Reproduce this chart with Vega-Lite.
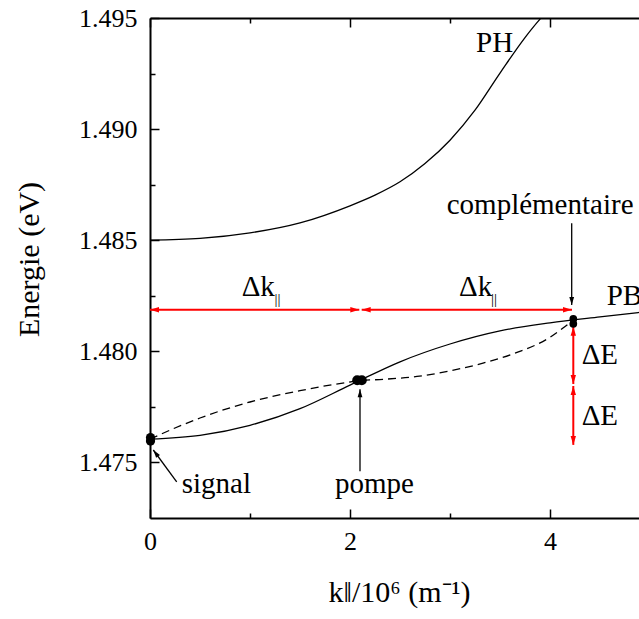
{
  "$schema": "https://vega.github.io/schema/vega-lite/v6.json",
  "width": 489,
  "height": 500,
  "autosize": "none",
  "padding": {"left": 150, "top": 18, "right": 0, "bottom": 101},
  "background": "white",
  "config": {
    "view": {"stroke": null},
    "font": "Liberation Serif",
    "axis": {
      "labelFont": "Liberation Serif",
      "labelFontSize": 26,
      "labelColor": "black",
      "titleFont": "Liberation Serif",
      "titleFontSize": 30,
      "titleFontWeight": "normal",
      "titleColor": "black",
      "domainColor": "black",
      "domainWidth": 2,
      "tickColor": "black",
      "tickWidth": 1.5,
      "grid": false,
      "labelFlush": false,
      "labelOverlap": false
    }
  },
  "datasets": {
    "curves": [
      {"k": 0, "E": 1.4850, "c": "PH"},
      {"k": 0.5, "E": 1.48508, "c": "PH"},
      {"k": 1, "E": 1.48533, "c": "PH"},
      {"k": 1.5, "E": 1.48578, "c": "PH"},
      {"k": 2, "E": 1.48655, "c": "PH"},
      {"k": 2.25, "E": 1.48703, "c": "PH"},
      {"k": 2.5, "E": 1.48763, "c": "PH"},
      {"k": 2.75, "E": 1.48845, "c": "PH"},
      {"k": 3, "E": 1.4895, "c": "PH"},
      {"k": 3.25, "E": 1.49085, "c": "PH"},
      {"k": 3.5, "E": 1.49252, "c": "PH"},
      {"k": 3.75, "E": 1.49412, "c": "PH"},
      {"k": 3.9, "E": 1.49495, "c": "PH"},
      {"k": 3.95, "E": 1.4952, "c": "PH"},
      {"k": 0, "E": 1.47605, "c": "PB"},
      {"k": 0.5, "E": 1.47622, "c": "PB"},
      {"k": 1, "E": 1.47667, "c": "PB"},
      {"k": 1.5, "E": 1.47742, "c": "PB"},
      {"k": 2, "E": 1.47848, "c": "PB"},
      {"k": 2.5, "E": 1.47953, "c": "PB"},
      {"k": 3, "E": 1.48033, "c": "PB"},
      {"k": 3.5, "E": 1.48092, "c": "PB"},
      {"k": 4, "E": 1.48128, "c": "PB"},
      {"k": 4.5, "E": 1.48155, "c": "PB"},
      {"k": 4.89, "E": 1.48175, "c": "PB"}
    ],
    "dashed": [
      {"k": 0, "E": 1.47605},
      {"k": 0.25, "E": 1.47655},
      {"k": 0.5, "E": 1.477},
      {"k": 1, "E": 1.47772},
      {"k": 1.5, "E": 1.47823},
      {"k": 2, "E": 1.47862},
      {"k": 2.1, "E": 1.47868},
      {"k": 2.33, "E": 1.47874},
      {"k": 2.67, "E": 1.47887},
      {"k": 3, "E": 1.47912},
      {"k": 3.33, "E": 1.47947},
      {"k": 3.67, "E": 1.47995},
      {"k": 4, "E": 1.48063},
      {"k": 4.13, "E": 1.48105},
      {"k": 4.23, "E": 1.4814}
    ],
    "dots": [
      {"k": 0.005, "E": 1.47612, "d": "s"},
      {"k": 0.005, "E": 1.47596, "d": "s"},
      {"k": 2.072, "E": 1.4787, "d": "p"},
      {"k": 2.118, "E": 1.4787, "d": "p"},
      {"k": 4.233, "E": 1.48146, "d": "c"},
      {"k": 4.233, "E": 1.48124, "d": "c"}
    ],
    "segments": [
      {"k": 0, "E": 1.48187, "k2": 2.093, "E2": 1.48187, "g": "delta"},
      {"k": 2.117, "E": 1.48187, "k2": 4.22, "E2": 1.48187, "g": "delta"},
      {"k": 4.233, "E": 1.48111, "k2": 4.233, "E2": 1.47853, "g": "delta"},
      {"k": 4.233, "E": 1.47844, "k2": 4.233, "E2": 1.47579, "g": "delta"},
      {"k": 0.267, "E": 1.47413, "k2": 0.033, "E2": 1.47556, "g": "pointer"},
      {"k": 2.1, "E": 1.4746, "k2": 2.1, "E2": 1.47829, "g": "pointer"},
      {"k": 4.217, "E": 1.48576, "k2": 4.217, "E2": 1.48209, "g": "pointer"}
    ],
    "heads": [
      {"k": 0, "E": 1.48187, "dir": "left", "g": "delta"},
      {"k": 2.093, "E": 1.48187, "dir": "right", "g": "delta"},
      {"k": 2.117, "E": 1.48187, "dir": "left", "g": "delta"},
      {"k": 4.22, "E": 1.48187, "dir": "right", "g": "delta"},
      {"k": 4.233, "E": 1.48111, "dir": "up", "g": "delta"},
      {"k": 4.233, "E": 1.47853, "dir": "down", "g": "delta"},
      {"k": 4.233, "E": 1.47844, "dir": "up", "g": "delta"},
      {"k": 4.233, "E": 1.47579, "dir": "down", "g": "delta"},
      {"k": 0.033, "E": 1.47556, "dir": "upleft", "g": "pointer"},
      {"k": 2.1, "E": 1.47829, "dir": "up", "g": "pointer"},
      {"k": 4.217, "E": 1.48209, "dir": "down", "g": "pointer"}
    ],
    "labels": [
      {"k": 3.26, "E": 1.49348, "t": "PH"},
      {"k": 0.317, "E": 1.47361, "t": "signal"},
      {"k": 1.85, "E": 1.47361, "t": "pompe"},
      {"k": 2.967, "E": 1.48618, "t": "complémentaire"},
      {"k": 4.317, "E": 1.47943, "t": "ΔE"},
      {"k": 4.317, "E": 1.47669, "t": "ΔE"},
      {"k": 0.917, "E": 1.48249, "t": "Δk"},
      {"k": 3.09, "E": 1.48249, "t": "Δk"}
    ],
    "pblabel": [
      {"k": 4.567, "E": 1.48209, "t": "PB"}
    ],
    "subs": [
      {"k": 1.245, "E": 1.48214, "t": "||"},
      {"k": 3.41, "E": 1.48214, "t": "||"}
    ]
  },
  "layer": [
    {
      "data": {"name": "curves"},
      "mark": {"type": "line", "color": "black", "strokeWidth": 1.3, "clip": true, "interpolate": "monotone"},
      "encoding": {
        "x": {"field": "k", "type": "quantitative",
          "scale": {"domain": [0, 4.89], "nice": false, "zero": false},
          "axis": {"orient": "bottom", "values": [0, 1, 2, 3, 4], "format": "d",
            "labelExpr": "datum.value % 2 === 0 ? datum.label : ''",
            "tickSize": {"condition": {"test": "datum.value % 2 === 0", "value": -9}, "value": -5},
            "labelPadding": 19.5,
            "title": "k‖/10⁶ (m⁻¹)", "titleX": 249, "titleY": 83, "titleBaseline": "alphabetic", "titleAlign": "center"}},
        "y": {"field": "E", "type": "quantitative",
          "scale": {"domain": [1.4725, 1.495], "nice": false, "zero": false},
          "axis": {"orient": "left", "values": [1.475, 1.4775, 1.48, 1.4825, 1.485, 1.4875, 1.49, 1.4925, 1.495],
            "labelExpr": "round(datum.value * 10000) % 50 === 0 ? format(datum.value, '.3f') : ''",
            "tickSize": {"condition": {"test": "round(datum.value * 10000) % 50 === 0", "value": -9}, "value": -5},
            "labelPadding": 22,
            "title": "Energie (eV)", "titleX": -111.7, "titleY": 241, "titleBaseline": "alphabetic", "titleAlign": "center", "titleAngle": 270}},
        "detail": {"field": "c", "type": "nominal"}
      }
    },
    {
      "data": {"name": "dashed"},
      "mark": {"type": "line", "color": "black", "strokeWidth": 1.3, "strokeDash": [8, 5], "clip": true, "interpolate": "monotone"},
      "encoding": {
        "x": {"field": "k", "type": "quantitative", "scale": {"domain": [0, 4.89], "nice": false, "zero": false}, "axis": null},
        "y": {"field": "E", "type": "quantitative", "scale": {"domain": [1.4725, 1.495], "nice": false, "zero": false}}
      }
    },
    {
      "data": {"name": "segments"},
      "transform": [{"filter": "datum.g === 'delta'"}],
      "mark": {"type": "rule", "color": "#ff0000", "strokeWidth": 2},
      "encoding": {
        "x": {"field": "k", "type": "quantitative", "scale": {"domain": [0, 4.89], "nice": false, "zero": false}, "axis": null},
        "y": {"field": "E", "type": "quantitative", "scale": {"domain": [1.4725, 1.495], "nice": false, "zero": false}},
        "x2": {"field": "k2"},
        "y2": {"field": "E2"}
      }
    },
    {
      "data": {"name": "segments"},
      "transform": [{"filter": "datum.g === 'pointer'"}],
      "mark": {"type": "rule", "color": "black", "strokeWidth": 1.3},
      "encoding": {
        "x": {"field": "k", "type": "quantitative", "scale": {"domain": [0, 4.89], "nice": false, "zero": false}, "axis": null},
        "y": {"field": "E", "type": "quantitative", "scale": {"domain": [1.4725, 1.495], "nice": false, "zero": false}},
        "x2": {"field": "k2"},
        "y2": {"field": "E2"}
      }
    },
    {
      "data": {"name": "heads"},
      "transform": [{"filter": "datum.g === 'delta'"}],
      "mark": {"type": "point", "shape": "M0,0L-2,-0.6L-2,0.6Z", "filled": true, "color": "#ff0000", "size": 81, "opacity": 1},
      "encoding": {
        "x": {"field": "k", "type": "quantitative", "scale": {"domain": [0, 4.89], "nice": false, "zero": false}, "axis": null},
        "y": {"field": "E", "type": "quantitative", "scale": {"domain": [1.4725, 1.495], "nice": false, "zero": false}},
        "angle": {"field": "dir", "type": "nominal", "legend": null,
          "scale": {"type": "ordinal", "domain": ["right", "down", "left", "up", "upleft"], "range": [0, 90, 180, 270, 233.6]}}
      }
    },
    {
      "data": {"name": "heads"},
      "transform": [{"filter": "datum.g === 'pointer'"}],
      "mark": {"type": "point", "shape": "M0,0L-2,-0.6L-2,0.6Z", "filled": true, "color": "black", "size": 64, "opacity": 1},
      "encoding": {
        "x": {"field": "k", "type": "quantitative", "scale": {"domain": [0, 4.89], "nice": false, "zero": false}, "axis": null},
        "y": {"field": "E", "type": "quantitative", "scale": {"domain": [1.4725, 1.495], "nice": false, "zero": false}},
        "angle": {"field": "dir", "type": "nominal", "legend": null,
          "scale": {"type": "ordinal", "domain": ["right", "down", "left", "up", "upleft"], "range": [0, 90, 180, 270, 233.6]}}
      }
    },
    {
      "data": {"name": "dots"},
      "mark": {"type": "circle", "color": "black", "opacity": 1},
      "encoding": {
        "x": {"field": "k", "type": "quantitative", "scale": {"domain": [0, 4.89], "nice": false, "zero": false},
          "axis": {"orient": "top", "values": [0, 1, 2, 3, 4], "labels": false, "title": null,
            "tickSize": {"condition": {"test": "datum.value % 2 === 0", "value": -9}, "value": -5}}},
        "y": {"field": "E", "type": "quantitative", "scale": {"domain": [1.4725, 1.495], "nice": false, "zero": false}},
        "size": {"field": "d", "type": "nominal", "legend": null,
          "scale": {"type": "ordinal", "domain": ["s", "p", "c"], "range": [85, 100, 60]}}
      }
    },
    {
      "data": {"name": "labels"},
      "mark": {"type": "text", "align": "left", "baseline": "alphabetic", "font": "Liberation Serif", "fontSize": 29, "color": "black"},
      "encoding": {
        "x": {"field": "k", "type": "quantitative", "scale": {"domain": [0, 4.89], "nice": false, "zero": false}, "axis": null},
        "y": {"field": "E", "type": "quantitative", "scale": {"domain": [1.4725, 1.495], "nice": false, "zero": false}},
        "text": {"field": "t"}
      }
    },
    {
      "data": {"name": "pblabel"},
      "mark": {"type": "text", "align": "left", "baseline": "alphabetic", "font": "Liberation Serif", "fontSize": 29, "color": "black", "clip": true},
      "encoding": {
        "x": {"field": "k", "type": "quantitative", "scale": {"domain": [0, 4.89], "nice": false, "zero": false}, "axis": null},
        "y": {"field": "E", "type": "quantitative", "scale": {"domain": [1.4725, 1.495], "nice": false, "zero": false}},
        "text": {"field": "t"}
      }
    },
    {
      "data": {"name": "subs"},
      "mark": {"type": "text", "align": "left", "baseline": "alphabetic", "font": "Liberation Serif", "fontSize": 15, "color": "black"},
      "encoding": {
        "x": {"field": "k", "type": "quantitative", "scale": {"domain": [0, 4.89], "nice": false, "zero": false}, "axis": null},
        "y": {"field": "E", "type": "quantitative", "scale": {"domain": [1.4725, 1.495], "nice": false, "zero": false}},
        "text": {"field": "t"}
      }
    }
  ],
  "resolve": {"axis": {"x": "independent"}}
}
